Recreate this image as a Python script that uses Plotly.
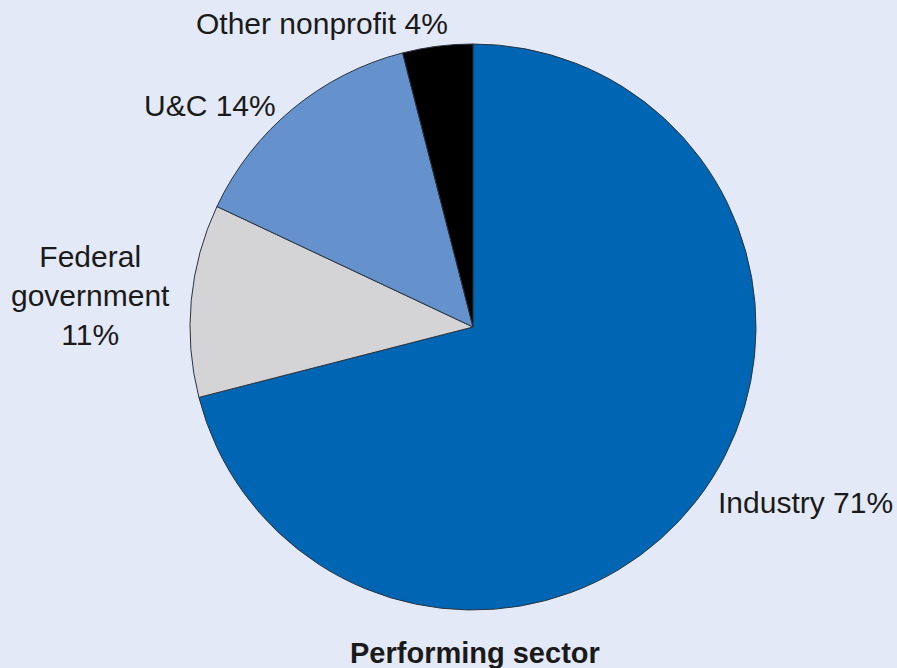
import plotly.graph_objects as go

W, H = 897, 668

sectors = ["Industry", "Federal government", "U&C", "Other nonprofit"]
shares = [71, 11, 14, 4]
colors = ["#0066b3", "#d4d4d6", "#6592cc", "#000000"]
label_text = ["Industry 71%", "Federal<br>government<br>11%", "U&C 14%", "Other nonprofit 4%"]
title_text = "Performing sector"

# label centres in pixels
label_pos = [(805, 502), (90, 296), (210, 105), (322, 24)]

cx, cy, r = 473, 327, 283

fig = go.Figure(go.Pie(
    labels=sectors,
    values=shares,
    sort=False,
    direction="clockwise",
    rotation=0,
    marker=dict(colors=colors, line=dict(color="#2a3340", width=1)),
    textinfo="none",
    hoverinfo="label+percent",
    showlegend=False,
    domain=dict(x=[(cx - r) / W, (cx + r) / W], y=[1 - (cy + r) / H, 1 - (cy - r) / H]),
))

font_family = "Liberation Sans, Arial, sans-serif"
for txt, (px, py) in zip(label_text, label_pos):
    fig.add_annotation(
        x=px / W, y=1 - py / H, xref="paper", yref="paper",
        text=txt, showarrow=False, xanchor="center", yanchor="middle",
        align="center",
        font=dict(family=font_family, size=30, color="#1a1a1a"),
    )

fig.add_annotation(
    x=475 / W, y=1 - 653 / H, xref="paper", yref="paper",
    text="<b>" + title_text + "</b>", showarrow=False, xanchor="center", yanchor="middle",
    font=dict(family=font_family, size=29, color="#1a1a1a"),
)

fig.update_layout(
    width=W, height=H,
    margin=dict(l=0, r=0, t=0, b=0),
    paper_bgcolor="#e3e9f6",
    plot_bgcolor="#e3e9f6",
)

fig.write_html(
    "out.html",
    config={"displayModeBar": False},
    post_script="document.body.style.margin='0';document.body.style.overflow='hidden';document.body.style.background='#e3e9f6';",
)
